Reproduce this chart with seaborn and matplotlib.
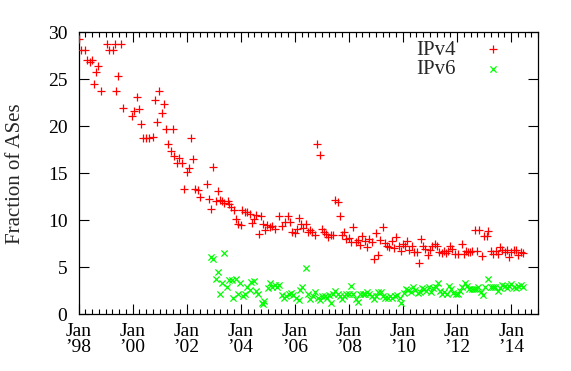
import numpy as np
import pandas as pd
import matplotlib
matplotlib.use("Agg")
import matplotlib.pyplot as plt
import seaborn as sns
from matplotlib.ticker import MultipleLocator, FixedLocator

# data: decimal year, fraction of ASes (%)
ipv4_year = [
    1998.00, 1998.08, 1998.25, 1998.33, 1998.43, 1998.49, 1998.57, 1998.65, 1998.73, 1998.82,
    1999.06, 1999.14, 1999.26, 1999.34, 1999.40, 1999.47, 1999.58, 1999.66, 1999.99, 2000.06,
    2000.15, 2000.24, 2000.32, 2000.40, 2000.51, 2000.61, 2000.74, 2000.82, 2000.90, 2000.99,
    2001.08, 2001.15, 2001.23, 2001.32, 2001.41, 2001.48, 2001.54, 2001.65, 2001.73, 2001.83,
    2001.90, 2002.00, 2002.09, 2002.16, 2002.23, 2002.32, 2002.42, 2002.49, 2002.74, 2002.82,
    2002.91, 2002.98, 2003.07, 2003.15, 2003.23, 2003.32, 2003.39, 2003.52, 2003.56, 2003.64,
    2003.75, 2003.82, 2003.91, 2004.00, 2004.06, 2004.16, 2004.24, 2004.34, 2004.41, 2004.50,
    2004.56, 2004.66, 2004.76, 2004.83, 2004.89, 2004.98, 2005.08, 2005.16, 2005.26, 2005.41,
    2005.53, 2005.65, 2005.74, 2005.83, 2005.90, 2005.99, 2006.08, 2006.15, 2006.23, 2006.31,
    2006.42, 2006.48, 2006.56, 2006.64, 2006.75, 2006.83, 2006.92, 2006.99, 2007.09, 2007.16,
    2007.23, 2007.32, 2007.41, 2007.49, 2007.58, 2007.67, 2007.74, 2007.83, 2007.90, 2007.99,
    2008.07, 2008.16, 2008.26, 2008.34, 2008.42, 2008.49, 2008.58, 2008.67, 2008.75, 2008.84,
    2008.92, 2009.00, 2009.08, 2009.16, 2009.25, 2009.32, 2009.40, 2009.48, 2009.59, 2009.67,
    2009.75, 2009.84, 2009.92, 2010.01, 2010.08, 2010.16, 2010.24, 2010.34, 2010.41, 2010.51,
    2010.60, 2010.66, 2010.75, 2010.82, 2010.91, 2010.99, 2011.08, 2011.17, 2011.25, 2011.33,
    2011.43, 2011.50, 2011.59, 2011.66, 2011.75, 2011.83, 2011.93, 2012.02, 2012.17, 2012.24,
    2012.33, 2012.41, 2012.48, 2012.57, 2012.66, 2012.74, 2012.82, 2012.92, 2013.00, 2013.09,
    2013.16, 2013.24, 2013.33, 2013.43, 2013.51, 2013.59, 2013.67, 2013.76, 2013.83, 2013.92,
    2014.00, 2014.10, 2014.19, 2014.26, 2014.35, 2014.44,
]
ipv4_frac = [
    29.25, 28.1, 28.1, 27.1, 26.8, 27.0, 24.5, 25.8, 26.4, 23.75,
    28.8, 28.1, 28.1, 28.8, 23.75, 25.4, 28.7, 21.9, 21.1, 21.6,
    23.15, 21.8, 20.2, 18.8, 18.8, 18.8, 18.9, 22.75, 20.5, 23.75,
    21.4, 22.4, 19.7, 18.1, 17.4, 19.7, 16.8, 16.1, 16.6, 16.1,
    13.3, 15.1, 15.6, 18.8, 16.5, 13.3, 13.2, 12.5, 13.9, 12.3,
    11.2, 15.7, 12.1, 13.1, 12.2, 12.0, 11.8, 12.1, 11.7, 11.4,
    11.1, 10.1, 9.65, 9.45, 11.1, 10.9, 10.9, 10.7, 9.75, 10.1,
    10.6, 8.55, 10.5, 9.55, 8.95, 9.45, 9.25, 9.35, 9.05, 10.45,
    9.35, 9.85, 10.45, 9.85, 8.75, 8.65, 9.05, 10.25, 9.55, 9.15,
    9.55, 8.75, 8.95, 8.75, 8.45, 18.1, 16.9, 9.05, 8.75, 8.55,
    8.25, 8.45, 8.45, 12.2, 11.9, 10.5, 8.45, 8.75, 8.05, 8.15,
    7.65, 9.25, 7.65, 7.95, 7.35, 8.35, 7.75, 7.15, 8.05, 7.65,
    5.9, 8.65, 6.3, 7.85, 9.25, 7.55, 7.25, 7.15, 7.75, 7.05,
    8.25, 7.25, 6.75, 7.45, 7.25, 7.75, 6.85, 7.25, 6.65, 6.65,
    5.4, 8.05, 7.25, 6.95, 6.3, 6.85, 7.25, 7.45, 7.25, 6.65,
    6.55, 6.75, 6.55, 6.75, 7.25, 6.95, 6.45, 6.45, 7.45, 6.45,
    6.75, 6.65, 6.65, 6.75, 8.95, 6.75, 8.95, 6.2, 8.35, 8.35,
    8.85, 6.75, 6.45, 6.75, 6.45, 7.15, 6.85, 6.65, 6.85, 6.1,
    6.65, 6.85, 6.85, 6.3, 6.65, 6.55,
]

ipv6_year = [
    2002.91, 2002.98, 2003.07, 2003.16, 2003.23, 2003.32, 2003.39, 2003.48, 2003.57, 2003.67,
    2003.72, 2003.81, 2003.90, 2003.98, 2004.07, 2004.14, 2004.24, 2004.33, 2004.39, 2004.48,
    2004.56, 2004.65, 2004.77, 2004.81, 2004.85, 2004.99, 2005.08, 2005.16, 2005.26, 2005.35,
    2005.42, 2005.51, 2005.60, 2005.68, 2005.77, 2005.86, 2005.94, 2006.03, 2006.14, 2006.19,
    2006.26, 2006.41, 2006.50, 2006.57, 2006.66, 2006.75, 2006.84, 2006.93, 2007.01, 2007.11,
    2007.20, 2007.26, 2007.33, 2007.42, 2007.49, 2007.58, 2007.67, 2007.75, 2007.82, 2007.91,
    2008.00, 2008.09, 2008.16, 2008.25, 2008.32, 2008.42, 2008.51, 2008.59, 2008.68, 2008.75,
    2008.84, 2008.92, 2009.00, 2009.08, 2009.17, 2009.26, 2009.34, 2009.43, 2009.52, 2009.60,
    2009.69, 2009.79, 2009.89, 2009.93, 2010.03, 2010.11, 2010.19, 2010.28, 2010.37, 2010.45,
    2010.55, 2010.62, 2010.70, 2010.78, 2010.87, 2010.96, 2011.03, 2011.12, 2011.21, 2011.28,
    2011.37, 2011.45, 2011.52, 2011.61, 2011.71, 2011.78, 2011.86, 2011.96, 2012.04, 2012.10,
    2012.19, 2012.28, 2012.36, 2012.45, 2012.54, 2012.62, 2012.71, 2012.79, 2012.87, 2012.95,
    2013.04, 2013.15, 2013.24, 2013.32, 2013.41, 2013.50, 2013.58, 2013.67, 2013.76, 2013.84,
    2013.92, 2014.00, 2014.09, 2014.17, 2014.26, 2014.35, 2014.43,
]
ipv6_frac = [
    6.1, 5.9, 3.8, 4.5, 2.2, 3.3, 6.5, 2.9, 3.65, 3.65,
    1.7, 3.8, 2.2, 3.3, 1.9, 2.2, 2.9, 2.6, 3.4, 3.5,
    2.5, 2.2, 1.2, 1.1, 1.4, 2.8, 3.3, 2.9, 3.1, 2.9,
    3.1, 2.0, 1.7, 1.9, 2.15, 2.3, 2.0, 1.7, 1.5, 2.6,
    2.9, 4.9, 2.15, 1.65, 1.9, 2.4, 1.7, 1.5, 1.9, 1.9,
    1.7, 2.0, 1.2, 2.2, 2.5, 2.1, 1.9, 1.6, 1.9, 2.1,
    2.1, 3.0, 2.2, 1.6, 1.3, 2.1, 2.2, 2.1, 2.4, 2.2,
    1.9, 1.6, 1.9, 2.4, 2.4, 1.9, 1.75, 1.7, 1.9, 1.75,
    1.9, 2.0, 1.75, 1.2, 2.3, 2.65, 2.6, 2.4, 2.9, 2.6,
    2.3, 2.4, 2.8, 2.65, 2.5, 2.9, 2.4, 2.8, 2.9, 3.3,
    2.5, 2.2, 2.4, 2.15, 3.0, 2.65, 2.3, 2.1, 2.2, 2.5,
    2.9, 3.3, 3.0, 2.7, 2.7, 2.65, 2.7, 2.9, 2.4, 2.0,
    2.9, 3.7, 2.9, 2.9, 2.9, 2.5, 2.8, 3.1, 3.0, 2.8,
    3.0, 3.2, 2.9, 2.8, 3.0, 3.1, 2.9,
]

tick_years = [1998, 2000, 2002, 2004, 2006, 2008, 2010, 2012, 2014]
tick_labels = ["Jan\n\u201998", "Jan\n\u201900", "Jan\n\u201902", "Jan\n\u201904", "Jan\n\u201906",
               "Jan\n\u201908", "Jan\n\u201910", "Jan\n\u201912", "Jan\n\u201914"]

sns.set_style("ticks")
plt.rcParams["font.family"] = ["Liberation Serif", "DejaVu Serif"]

fig = plt.figure(figsize=(5.71, 3.71), dpi=100)
ax = fig.add_axes([0.1375, 0.153, 0.805, 0.760])

sns.scatterplot(x=ipv4_year, y=ipv4_frac, marker="+", color="#ff0000", s=30,
                linewidth=0.9, label="IPv4", ax=ax, zorder=3)
sns.scatterplot(x=ipv6_year, y=ipv6_frac, marker="x", color="#00ff00", s=20,
                linewidth=0.9, label="IPv6", ax=ax, zorder=3)

ax.set_xlim(1998, 2015)
ax.set_ylim(0, 30)
ax.xaxis.set_major_locator(FixedLocator(tick_years))
ax.set_xticklabels(tick_labels)
ax.xaxis.set_minor_locator(MultipleLocator(0.25))
ax.yaxis.set_major_locator(MultipleLocator(5))

for s in ax.spines.values():
    s.set_visible(True)
    s.set_linewidth(0.9)
    s.set_color("black")

ax.tick_params(axis="both", which="both", direction="in", top=True, right=True,
               colors="black", width=0.8)
ax.tick_params(axis="both", which="major", length=7.5, labelsize=14)
ax.tick_params(axis="x", which="minor", length=3.5)
ax.tick_params(axis="x", which="major", pad=6)
ax.tick_params(axis="y", which="major", pad=8)
for lab in ax.get_xticklabels():
    lab.set_linespacing(0.95)

ax.set_ylabel("Fraction of ASes", fontsize=15)
ax.yaxis.set_label_coords(-0.116, 0.5)
ax.set_xlabel("")

leg = ax.legend(loc="upper right", bbox_to_anchor=(1.0, 1.057), frameon=False,
                markerfirst=False, fontsize=15, handlelength=2.0, handletextpad=0.8,
                labelspacing=0.0, borderaxespad=0.75, borderpad=0.4)

fig.savefig("out.png", dpi=100)
